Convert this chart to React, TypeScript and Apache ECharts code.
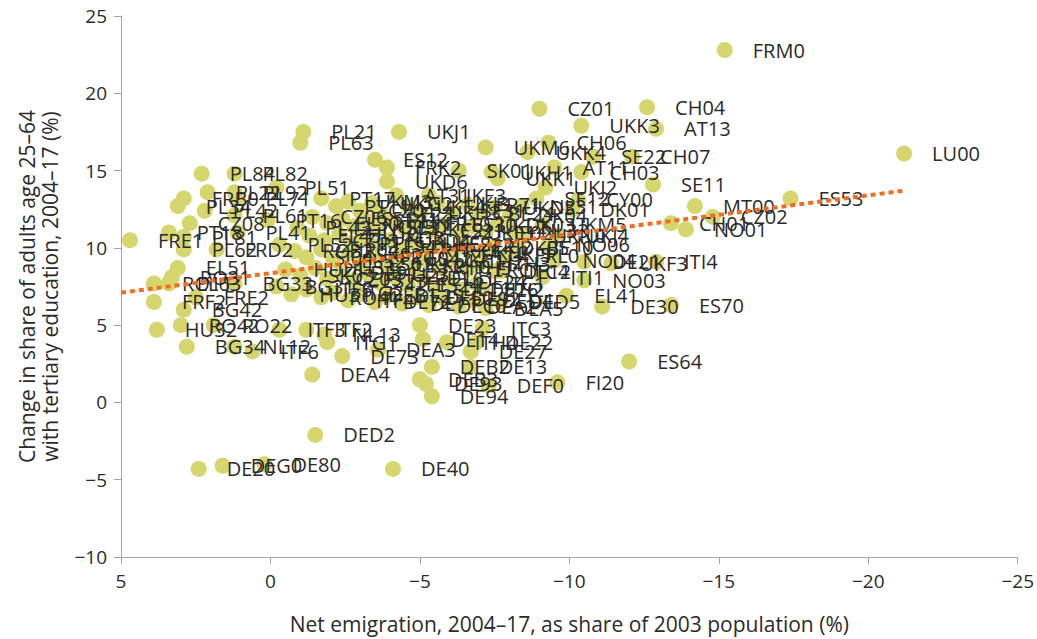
import React, { useEffect, useRef } from "react";
import * as echarts from "echarts";

// Region codes, net emigration 2004-17 (% of 2003 population), change in tertiary share (pp)
const regionLabels = [
  "FRE1","PL84","PL82","PL22","PL92","PL71","PL51","FRB0","PL34","PL42","PL61","CZ08","PT16","PL81","PT18","PL41","PL62","FRD2","EL51","RO31","RO11","EL63","BG33","FRF2","FRE2","BG42","RO42","RO22","HU32","BG34","NL12","ITF6","ITF3","ITF2","NL13","ITG1","DE73","DEA3","DEA4","DED2","DE20","DEG0","DE80","DE40",
  "PL21","PL63","UKJ1","ES12","FRK2","UKD6","AT31","UKE3","SK01","UKH1","UKK1","UKM6","CZ01","UKK4","CH06","AT11","UKJ2","UKK3","CH03","SE22","CH04","AT13","CH07","SE11","SE12","CY00","DK01","UKM5","UKJ4","NO06","NO04","DE21","UKF3","ITI4","ITI1","NO03","ITC4","ITI2","EL41","DE30","ES70","ES64","DE23","ITC3","DE22","DE27","DE14","ITH4","DEB2","DE13","DEB3","DE93","DE94","DEF0","FI20",
  "FRM0","LU00","ES53","MT00","CZ02","CH01","NO01",
  "PT17","PT11","UKM3","CZ04","UKG2","SE23","UKE4","UKH3","UKJ3","SE31","FR71","BE24","UKD3","DK04","NL31",
  "CZ06","EL30","ES51","NO05","SE21","SE32","UKF1","UKC2","FR10","ES21","ES30","UKE1","UKL2","IE02","DK03","NL33","UKN0",
  "PL43","EL43","CZ03","HU10","PT15","UKG3","ES41","UKD4","FRI1","UKE2","FRK1","ES22","UKF2","FRJ2","UKI5","DK05","FRL0","BE10",
  "PL52","RO32","SI04","HR04","EL52","SK02","ES61","FRG0","UKK2","ES42","FRH0","UKC1","ITH5","ITH2","FRC1","ITH3","DE12",
  "HU21","SK03","HU33","CZ05","DE91","ES23","HU23","ITF1","FRD1","ES24","EL61","DE11","DE24","DE26","ITC1",
  "BG31","HU31","ITF5","RO41","ITG2","ITF4","DEB1","DE72","DE25","DE71","DE50","DEC0","DE92","DEA2","DED4","DEA5","DED5"
];

const netEmigration = [
  4.7,2.3,1.2,2.1,1.2,1.1,-0.2,2.9,3.1,2.2,1.2,2.7,0.1,2.9,3.4,1.1,2.9,1.8,3.1,3.3,3.9,3.4,1.2,3.9,2.5,2.9,3.0,1.9,3.8,2.8,1.2,0.6,-0.3,-1.2,-1.8,-1.9,-2.4,-3.6,-1.4,-1.5,2.4,1.6,0.2,-4.1,
  -1.1,-1.0,-4.3,-3.5,-3.9,-3.9,-4.2,-5.3,-6.3,-7.4,-7.6,-7.2,-9.0,-8.6,-9.3,-9.5,-9.2,-10.4,-10.4,-10.8,-12.6,-12.9,-12.1,-12.8,-8.9,-10.3,-10.1,-9.1,-9.6,-9.3,-9.5,-10.5,-11.4,-12.9,-9.1,-10.5,-7.7,-7.1,-9.9,-11.1,-13.4,-12.0,-5.0,-7.1,-6.9,-6.7,-5.1,-5.9,-5.4,-6.7,-5.0,-5.2,-5.4,-7.3,-9.6,
  -15.2,-21.2,-17.4,-14.2,-14.8,-13.4,-13.9,
  -1.7,-2.2,-2.6,-3.0,-3.4,-3.7,-4.6,-5.0,-5.6,-6.1,-6.6,-7.0,-7.5,-8.0,-8.4,
  -1.4,-1.9,-2.4,-2.8,-3.2,-3.6,-4.1,-4.5,-4.9,-5.4,-5.8,-6.3,-6.7,-7.2,-7.6,-8.1,-8.5,
  -0.9,-1.3,-1.8,-2.3,-2.7,-3.1,-3.5,-4.0,-4.4,-4.8,-5.2,-5.7,-6.1,-6.5,-7.0,-7.4,-7.9,-8.3,
  -0.3,-0.8,-1.2,-1.7,-2.1,-2.6,-3.0,-3.4,-3.9,-4.3,-4.8,-5.2,-5.7,-6.1,-6.6,-7.0,-7.5,
  -0.5,-1.0,-1.5,-1.9,-2.4,-2.8,-3.3,-3.7,-4.2,-4.6,-5.1,-5.5,-6.0,-6.4,-6.9,
  -0.2,-0.7,-1.2,-1.7,-2.1,-2.6,-3.0,-3.5,-3.9,-4.4,-4.9,-5.3,-5.8,-6.3,-6.8,-7.2,-7.7
];

const tertiaryChange = [
  10.5,14.8,14.8,13.6,13.6,13.2,13.9,13.2,12.7,12.4,12.1,11.6,11.8,10.7,11.0,11.0,9.9,9.9,8.7,8.1,7.7,7.7,7.7,6.5,6.8,6.0,5.0,5.0,4.7,3.6,3.6,3.3,4.7,4.7,4.4,3.9,3.0,3.4,1.8,-2.1,-4.3,-4.1,-4.0,-4.3,
  17.5,16.8,17.5,15.7,15.2,14.3,13.4,13.4,15.0,14.9,14.5,16.5,19.0,16.2,16.8,15.2,13.9,17.9,14.9,15.9,19.1,17.7,15.9,14.1,13.2,13.1,12.5,11.5,10.8,10.2,9.2,9.1,9.0,9.1,8.1,7.9,8.5,7.3,6.9,6.2,6.3,2.65,5.0,4.8,3.9,3.3,4.1,3.9,2.3,2.3,1.5,1.2,0.4,1.1,1.3,
  22.8,16.1,13.2,12.7,12.0,11.6,11.2,
  13.2,12.7,13.0,12.4,12.9,12.2,12.7,12.3,12.9,12.4,12.8,12.2,12.6,12.1,12.7,
  12.0,11.6,11.9,11.4,11.8,11.3,11.7,11.2,11.6,11.1,11.5,11.0,11.4,11.0,11.5,11.1,10.8,
  11.3,10.8,10.5,10.9,10.3,10.7,10.1,10.5,9.9,10.3,9.8,10.2,9.7,10.1,9.6,10.0,9.5,10.0,
  10.2,9.8,9.4,9.9,9.2,9.6,9.0,9.4,8.9,9.3,8.8,9.2,8.7,9.1,8.6,9.0,8.5,
  8.6,8.2,8.7,8.0,8.4,7.9,8.3,7.7,8.1,7.6,8.0,7.4,7.8,7.3,7.7,
  7.5,7.0,7.3,6.8,7.1,6.6,7.0,6.5,6.9,6.4,6.8,6.3,6.7,6.2,6.6,6.1,6.5
];

// Fitted trend line end points
const trendX = [5, -21.2];
const trendY = [7.1, 13.7];

const xAxisRange = { min: -25, max: 5, step: 5 };
const yAxisRange = { min: -10, max: 25, step: 5 };

const FONT = "'Open Sans', 'Noto Sans', sans-serif";
const TEXT = "#2b2b2b";

function fmt(v: number): string {
  return v < 0 ? "\u2212" + Math.abs(v) : String(v);
}

export default function App() {
  const ref = useRef<HTMLDivElement>(null);
  useEffect(() => {
    if (!ref.current) return;
    const chart = echarts.init(ref.current, undefined, { renderer: "svg" });
    const points = regionLabels.map((name, i) => ({
      name,
      value: [netEmigration[i], tertiaryChange[i]],
    }));
    chart.setOption({
      animation: false,
      backgroundColor: "#ffffff",
      grid: { left: 121, right: 15, top: 16, bottom: 81, containLabel: false },
      xAxis: {
        type: "value",
        inverse: true,
        min: xAxisRange.min,
        max: xAxisRange.max,
        interval: xAxisRange.step,
        name: "Net emigration, 2004\u201317, as share of 2003 population (%)",
        nameLocation: "middle",
        nameGap: 56,
        nameTextStyle: { color: TEXT, fontSize: 21, fontFamily: FONT },
        axisLine: { show: true, onZero: false, lineStyle: { color: "#a6a6a6", width: 1 } },
        axisTick: { show: true, length: 7, lineStyle: { color: "#a6a6a6" } },
        axisLabel: { color: TEXT, fontSize: 19, fontFamily: FONT, margin: 14, formatter: fmt },
        splitLine: { show: false },
      },
      yAxis: {
        type: "value",
        min: yAxisRange.min,
        max: yAxisRange.max,
        interval: yAxisRange.step,
        name: "Change in share of adults age 25\u201364\nwith tertiary education, 2004\u201317 (%)",
        nameLocation: "middle",
        nameGap: 60,
        nameRotate: 90,
        nameTextStyle: { color: TEXT, fontSize: 21, fontFamily: FONT, lineHeight: 23 },
        axisLine: { show: true, onZero: false, lineStyle: { color: "#a6a6a6", width: 1 } },
        axisTick: { show: true, length: 7, lineStyle: { color: "#a6a6a6" } },
        axisLabel: { color: TEXT, fontSize: 19, fontFamily: FONT, margin: 14, formatter: fmt },
        splitLine: { show: false },
      },
      series: [
        {
          type: "scatter",
          data: points,
          symbolSize: 16,
          itemStyle: { color: "#d5d66e", opacity: 1 },
          label: {
            show: true,
            position: "right",
            distance: 20,
            formatter: "{b}",
            color: TEXT,
            fontSize: 20,
            fontFamily: FONT,
          },
          z: 2,
        },
        {
          type: "line",
          data: trendX.map((x, i) => [x, trendY[i]]),
          symbol: "none",
          lineStyle: { color: "#f26c22", width: 4, type: [5, 4] },
          z: 5,
          silent: true,
        },
      ],
    });
    return () => chart.dispose();
  }, []);
  return (
    <div
      ref={ref}
      style={{ position: "absolute", left: 0, top: 0, width: 1037, height: 639 }}
    />
  );
}
